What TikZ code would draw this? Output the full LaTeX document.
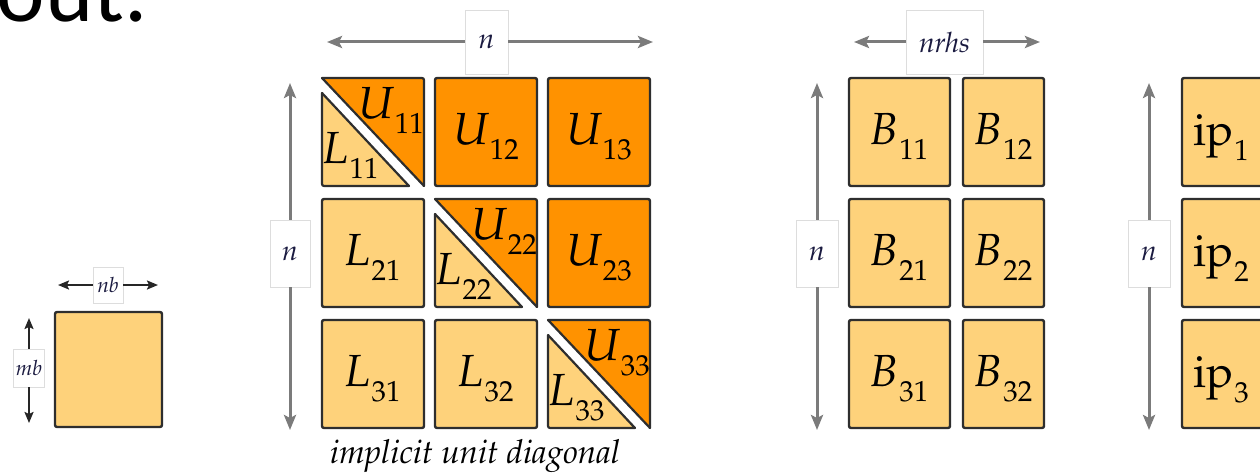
\documentclass[tikz,border=0pt]{standalone}
\usepackage{fontspec}
\newfontfamily\carlito{Carlito}
\usetikzlibrary{arrows.meta}
\definecolor{lightor}{HTML}{FED27B}
\definecolor{darkor}{HTML}{FF9200}
\definecolor{tileedge}{HTML}{2E2E2E}
\definecolor{arrgray}{HTML}{7B7B7B}
\definecolor{lblbox}{HTML}{DDDDDD}
\definecolor{lbltext}{HTML}{1A1A40}
\newcommand\pal{\fontencoding{OT1}\fontfamily{ppl}\selectfont}
\newcommand\blk[2]{{\pal\fontsize{45}{48}\selectfont\itshape #1\/}\kern1pt\raisebox{-15pt}{\pal\fontsize{29}{30}\selectfont #2}}
\newcommand\ipb[1]{{\pal\fontsize{45}{48}\selectfont ip}\kern1pt\raisebox{-15pt}{\pal\fontsize{29}{30}\selectfont #1}}
\begin{document}
\begin{tikzpicture}[x=1pt,y=-1pt,
  tile/.style={fill=lightor, draw=tileedge, line width=2.4pt, rounded corners=2pt, inner sep=0pt},
  utile/.style={tile, fill=darkor},
  lutri/.style={draw=tileedge, line width=2.2pt, line join=round},
  lbl/.style={inner sep=0pt, anchor=base},
  lbox/.style={fill=white, draw=lblbox, line width=0.8pt, inner sep=0pt, text=lbltext, font=\pal\itshape\fontsize{28}{30}\selectfont},
  sbox/.style={lbox, font=\pal\itshape\fontsize{21}{22}\selectfont},
  garrow/.style={draw=arrgray, line width=3pt, -{Stealth[length=15pt,width=12pt,inset=3pt]}},
  karrow/.style={draw=black!85, line width=2pt, -{Stealth[length=11pt,width=9pt,inset=2pt]}}]
\useasboundingbox (0,0) rectangle (1260,476);

% title fragment
\node[anchor=base east, inner sep=0pt, font=\carlito\fontsize{92}{100}\selectfont] (title) at (148,22) {out.};

% ---- small block ----
\node[tile, minimum width=107pt, minimum height=115pt] (blk) at (108.5,369.5) {};
\node[sbox, minimum width=30pt, minimum height=36pt] (nbbox) at (108,285) {nb};
\node[sbox, minimum width=31pt, minimum height=38pt] (mbbox) at (29,368) {mb};
\coordinate (nbL) at (58,285);
\coordinate (nbR) at (158,285);
\coordinate (mbT) at (29,318);
\coordinate (mbB) at (29,423);
\draw[karrow] (nbbox) -- (nbL);
\draw[karrow] (nbbox) -- (nbR);
\draw[karrow] (mbbox) -- (mbT);
\draw[karrow] (mbbox) -- (mbB);

% ---- LU matrix ----
\node[utile, minimum width=102pt, minimum height=108pt] (U12) at (486,132) {};
\node[utile, minimum width=102pt, minimum height=108pt] (U13) at (599,132) {};
\node[tile,  minimum width=102pt, minimum height=108pt] (L21) at (373,253) {};
\node[utile, minimum width=102pt, minimum height=108pt] (U23) at (599,253) {};
\node[tile,  minimum width=102pt, minimum height=108pt] (L31) at (373,374) {};
\node[tile,  minimum width=102pt, minimum height=108pt] (L32) at (486,374) {};
\node[lbl] (tU12) at (486,144) {\blk{U}{12}};
\node[lbl] (tU13) at (599,144) {\blk{U}{13}};
\node[lbl] (tL21) at (373,265) {\blk{L}{21}};
\node[lbl] (tU23) at (599,265) {\blk{U}{23}};
\node[lbl] (tL31) at (373,386) {\blk{L}{31}};
\node[lbl] (tL32) at (486,386) {\blk{L}{32}};
% diagonal tiles
\foreach \cx/\cy/\k in {373/132/11, 486/253/22, 599/374/33}{
  \fill[darkor] (\cx-51,\cy-54) -- (\cx+51,\cy-54) -- (\cx+51,\cy+54) -- cycle;
  \draw[lutri] (\cx-51,\cy-54) -- (\cx+49,\cy-54) arc[start angle=270,end angle=360,radius=2] -- (\cx+51,\cy+54) -- cycle;
  \fill[lightor] (\cx-51,\cy-39) -- (\cx-51,\cy+54) -- (\cx+36,\cy+54) -- cycle;
  \draw[lutri] (\cx-51,\cy-39) -- (\cx-51,\cy+52) arc[start angle=180,end angle=90,radius=2] -- (\cx+36,\cy+54) -- cycle;
  \node[lbl] (tU\k) at (\cx+18,\cy-14) {\blk{U}{\k}};
  \node[lbl] (tL\k) at (\cx-22,\cy+31) {\blk{L}{\k}};
}
% dimension arrows
\node[lbox, minimum width=43pt, minimum height=64pt] (nTop) at (486.5,42) {n};
\coordinate (nTopL) at (327,42);
\coordinate (nTopR) at (653,42);
\draw[garrow] (nTop) -- (nTopL);
\draw[garrow] (nTop) -- (nTopR);
\node[lbox, minimum width=40pt, minimum height=67pt] (nLeft) at (290,253.5) {n};
\coordinate (nLeftT) at (290,83);
\coordinate (nLeftB) at (290,430);
\draw[garrow] (nLeft) -- (nLeftT);
\draw[garrow] (nLeft) -- (nLeftB);
\node[lbl, font=\pal\itshape\fontsize{33}{36}\selectfont] (implicit) at (475,463) {implicit unit diagonal};

% ---- B matrix ----
\foreach \r/\cy in {1/132,2/253,3/374}{
  \node[tile, minimum width=101pt, minimum height=108pt] (B\r1) at (899.5,\cy) {};
  \node[tile, minimum width=81pt, minimum height=108pt] (B\r2) at (1003.5,\cy) {};
  \node[lbl] (tB\r1) at (899.5,\cy+12) {\blk{B}{\r1}};
  \node[lbl] (tB\r2) at (1003.5,\cy+12) {\blk{B}{\r2}};
}
\node[lbox, minimum width=77pt, minimum height=64pt] (nrhs) at (944.5,42) {nrhs};
\coordinate (nrhsL) at (854,42);
\coordinate (nrhsR) at (1040,42);
\draw[garrow] (nrhs) -- (nrhsL);
\draw[garrow] (nrhs) -- (nrhsR);
\node[lbox, minimum width=42pt, minimum height=67pt] (nB) at (817,253.5) {n};
\coordinate (nBT) at (817,83);
\coordinate (nBB) at (817,430);
\draw[garrow] (nB) -- (nBT);
\draw[garrow] (nB) -- (nBB);

% ---- ip vector ----
\foreach \r/\cy in {1/132,2/253,3/374}{
  \node[tile, minimum width=101pt, minimum height=108pt] (ip\r) at (1232.5,\cy) {};
  \node[lbl, anchor=base west] (tip\r) at (1193,\cy+13) {\ipb{\r}};
}
\node[lbox, minimum width=42pt, minimum height=67pt] (nip) at (1149,253.5) {n};
\coordinate (nipT) at (1149,83);
\coordinate (nipB) at (1149,430);
\draw[garrow] (nip) -- (nipT);
\draw[garrow] (nip) -- (nipB);
\end{tikzpicture}
\end{document}
